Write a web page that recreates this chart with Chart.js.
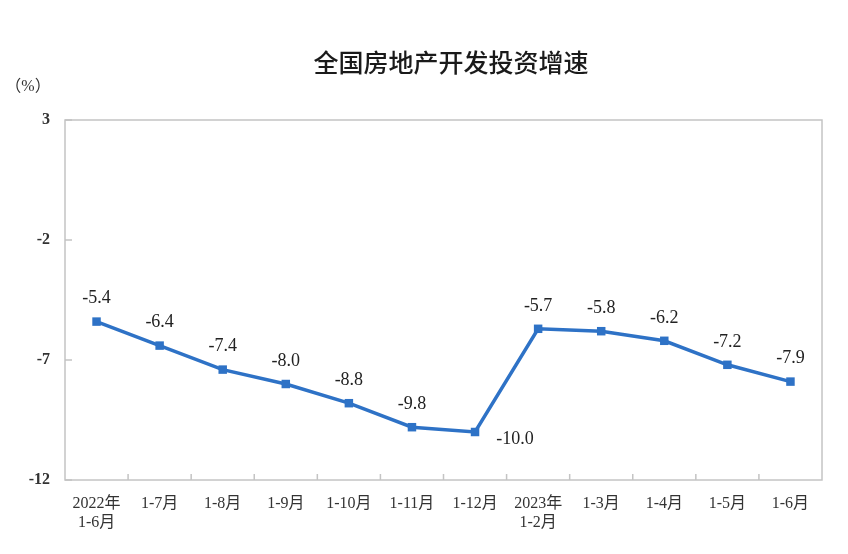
<!DOCTYPE html>
<html>
<head>
<meta charset="utf-8">
<script src="https://cdn.jsdelivr.net/npm/chart.js@4"></script>
<style>
html,body{margin:0;padding:0;background:#fff;}
#wrap{width:848px;height:554px;}
</style>
</head>
<body>
<div id="wrap"><canvas id="c" width="848" height="554"></canvas></div>
<script>
const categories = [
  ["2022年","1-6月"], "1-7月", "1-8月", "1-9月", "1-10月", "1-11月", "1-12月",
  ["2023年","1-2月"], "1-3月", "1-4月", "1-5月", "1-6月"
];
const growth = [-5.4, -6.4, -7.4, -8.0, -8.8, -9.8, -10.0, -5.7, -5.8, -6.2, -7.2, -7.9];
const yTicks = [3, -2, -7, -12];
const titleText = "全国房地产开发投资增速";
const unitText = "（%）";

const serif = '"Liberation Serif", "Times New Roman", "Noto Sans CJK SC", serif';

const decor = {
  id: 'decor',
  afterDraw(chart) {
    const ctx = chart.ctx;
    const a = chart.chartArea;
    ctx.save();
    ctx.strokeStyle = '#c4c4c4';
    ctx.lineWidth = 1.5;
    ctx.strokeRect(a.left, a.top, a.right - a.left, a.bottom - a.top);
    const xs = chart.scales.x, ys = chart.scales.y;
    ctx.beginPath();
    for (let i = 1; i < categories.length; i++) {
      const px = (xs.getPixelForValue(i - 1) + xs.getPixelForValue(i)) / 2;
      ctx.moveTo(px, a.bottom);
      ctx.lineTo(px, a.bottom - 6);
    }
    yTicks.forEach(v => {
      const py = ys.getPixelForValue(v);
      ctx.moveTo(a.left, py);
      ctx.lineTo(a.left + 7, py);
    });
    ctx.stroke();
    ctx.fillStyle = '#1a1a1a';
    ctx.font = '500 25px "Noto Sans CJK SC", sans-serif';
    ctx.textAlign = 'center';
    ctx.textBaseline = 'middle';
    ctx.fillText(titleText, 451, 62);
    ctx.font = '16px ' + serif;
    ctx.fillStyle = '#333';
    ctx.fillText(unitText, 28, 87);
    const meta = chart.getDatasetMeta(0);
    ctx.font = '18px ' + serif;
    ctx.fillStyle = '#222';
    meta.data.forEach((pt, i) => {
      const txt = growth[i].toFixed(1);
      if (i === 6) {
        ctx.fillText(txt, pt.x + 40, pt.y + 7);
      } else {
        ctx.fillText(txt, pt.x, pt.y - 23);
      }
    });
    ctx.restore();
  }
};

new Chart(document.getElementById('c'), {
  type: 'line',
  data: {
    labels: categories,
    datasets: [{
      data: growth,
      borderColor: '#2e72c6',
      backgroundColor: '#2e72c6',
      borderWidth: 3.5,
      pointStyle: 'rect',
      pointRadius: 6,
      pointBackgroundColor: '#2e72c6',
      pointBorderWidth: 0,
      tension: 0,
      fill: false
    }]
  },
  options: {
    responsive: false,
    animation: false,
    devicePixelRatio: 1,
    layout: { padding: { top: 120, right: 26, left: 0, bottom: 0 } },
    plugins: { legend: { display: false }, tooltip: { enabled: false }, title: { display: false } },
    scales: {
      x: {
        offset: true,
        grid: { display: false },
        border: { display: false },
        ticks: {
          color: '#333',
          font: { family: serif, size: 16 },
          maxRotation: 0,
          autoSkip: false,
          padding: 6
        },
        afterFit(s) { s.height = 74; }
      },
      y: {
        min: -12,
        max: 3,
        afterBuildTicks(s) { s.ticks = yTicks.map(v => ({ value: v })); },
        grid: { display: false },
        border: { display: false },
        ticks: {
          color: '#333',
          font: { family: serif, size: 16, weight: 'bold' },
          padding: 7
        },
        afterFit(s) { s.width = 65; }
      }
    }
  },
  plugins: [decor]
});
</script>
</body>
</html>
